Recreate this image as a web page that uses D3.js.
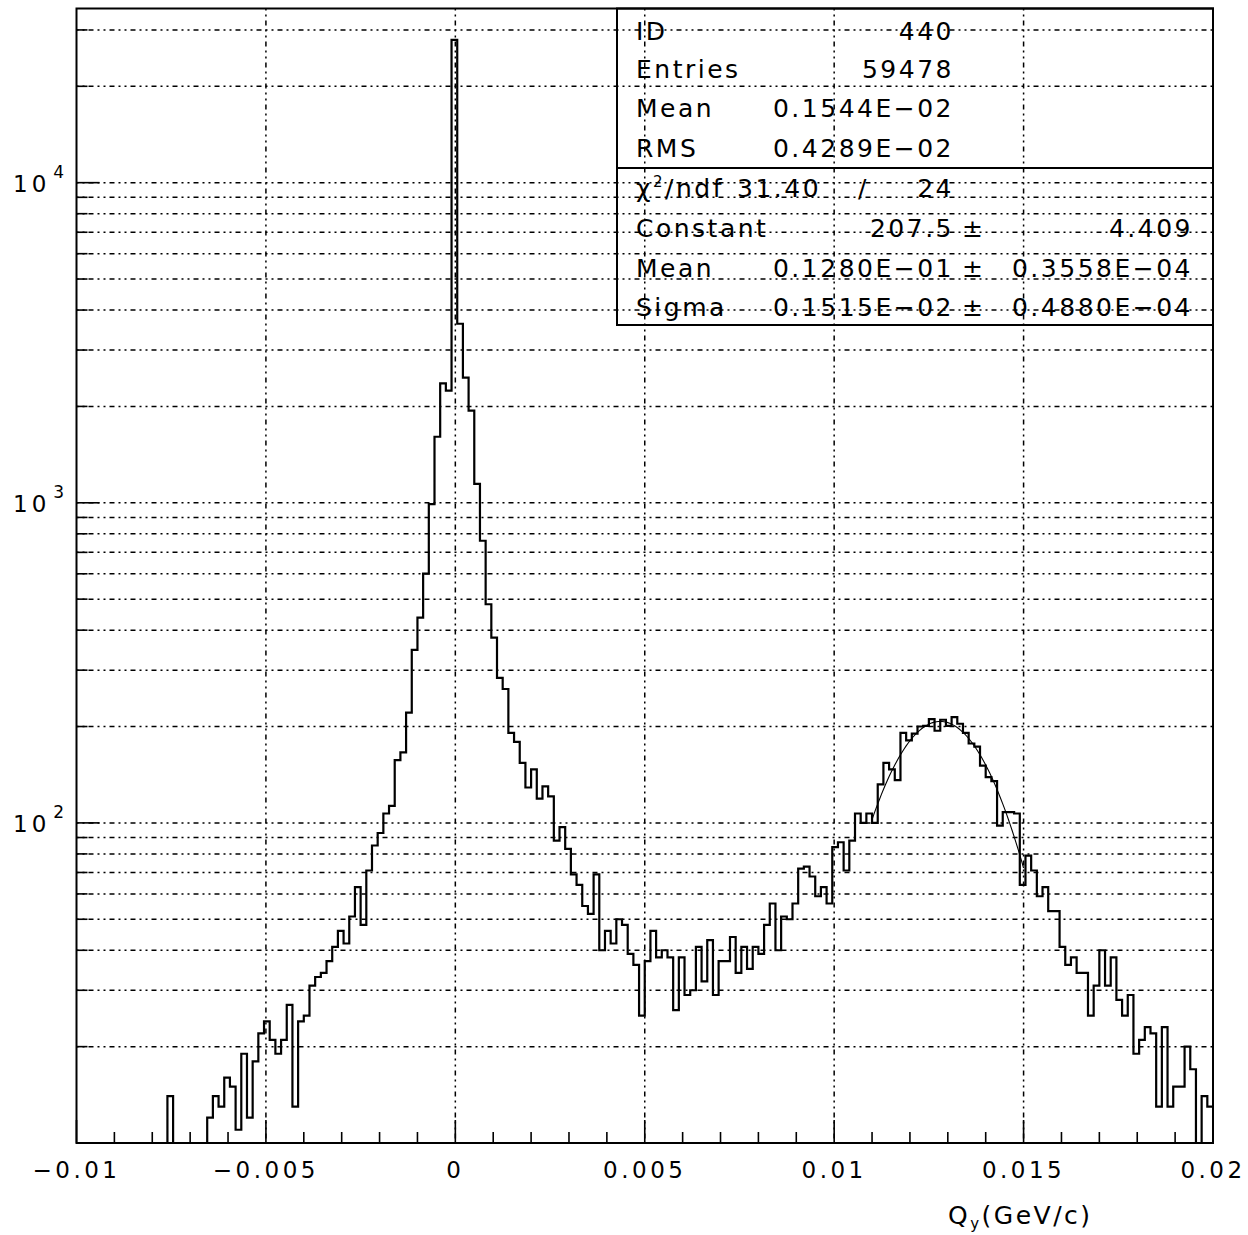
<!DOCTYPE html>
<html>
<head>
<meta charset="utf-8">
<script src="https://cdn.jsdelivr.net/npm/d3@7"></script>
<style>
  body { margin: 0; background: #fff; }
  svg { display: block; }
  text { font-family: 'DejaVu Sans', sans-serif; fill: #000; }
</style>
</head>
<body>
<svg id="chart" width="1248" height="1235"></svg>
<script>
// histogram 440 : 200 bins from -0.01 to 0.02
const binLow = -0.01;
const binHigh = 0.02;
const counts = [
  0, 0, 0, 0, 0, 0, 0, 0, 0, 0,
  0, 0, 0, 0, 0, 0, 14, 0, 0, 0,
  0, 0, 0, 12, 14, 13, 16, 15, 11, 19,
  12, 18, 22, 24, 21, 19, 21, 27, 13, 24,
  25, 31, 33, 34, 37, 41, 46, 42, 51, 63,
  48, 71, 85, 93, 107, 113, 157, 166, 221, 347,
  438, 601, 991, 1608, 2360, 2239, 27930, 3625, 2460, 1939,
  1146, 761, 482, 379, 284, 262, 191, 179, 154, 129,
  147, 119, 130, 121, 88, 97, 83, 69, 64, 55,
  52, 69, 40, 46, 42, 50, 48, 39, 36, 25,
  37, 46, 38, 40, 38, 26, 38, 29, 30, 41,
  32, 43, 29, 37, 37, 44, 34, 41, 35, 41,
  39, 48, 56, 40, 51, 50, 56, 72, 73, 68,
  59, 63, 56, 84, 87, 71, 88, 107, 100, 107,
  100, 132, 154, 147, 136, 191, 181, 190, 200, 201,
  211, 194, 210, 201, 214, 204, 191, 177, 173, 151,
  139, 135, 98, 108, 108, 107, 64, 79, 71, 59,
  63, 53, 53, 41, 36, 38, 34, 34, 25, 31,
  40, 31, 38, 28, 25, 29, 19, 21, 23, 22,
  13, 23, 13, 15, 15, 20, 17, 0, 14, 13
];

const xMajorTicks = [-0.01, -0.005, 0, 0.005, 0.01, 0.015, 0.02];
const xTickLabels = ['\u22120.01', '\u22120.005', '0', '0.005', '0.01', '0.015', '0.02'];
const yDecades = [100, 1000, 10000];
const yDecadeExp = ['2', '3', '4'];

// statistics box
const statLabels = ['ID', 'Entries', 'Mean', 'RMS'];
const statValues = ['440', '59478', '0.1544E\u221202', '0.4289E\u221202'];
const chi2 = '31.40';
const ndf = '24';
const fitLabels = ['Constant', 'Mean', 'Sigma'];
const fitValues = ['207.5', '0.1280E\u221201', '0.1515E\u221202'];
const fitErrors = ['4.409', '0.3558E\u221204', '0.4880E\u221204'];
// gaussian fit, drawn over its fit range
const fitConstant = 207.5;
const fitMean = 0.0128;
const fitSigma = 0.001515;
const fitRange = [0.011, 0.015];

const svg = d3.select('#chart');
const plotL = 76.5, plotR = 1213, plotT = 8.5, plotB = 1143;

const x = d3.scaleLinear().domain([binLow, binHigh]).range([plotL, plotR]);
const y = d3.scaleLog().domain([10, 35000]).range([plotB, plotT]);

const gridDash = '2,4,2,4,5,4';

// grid
svg.append('g')
  .selectAll('line')
  .data(y.ticks().filter(v => v > 10))
  .enter()
  .append('line')
  .attr('x1', plotL).attr('x2', plotR)
  .attr('y1', d => y(d)).attr('y2', d => y(d))
  .attr('stroke', '#000')
  .attr('stroke-width', 1.5)
  .attr('stroke-dasharray', gridDash);

svg.append('g')
  .selectAll('line')
  .data(xMajorTicks.slice(1, -1))
  .enter()
  .append('line')
  .attr('x1', d => x(d)).attr('x2', d => x(d))
  .attr('y1', plotT).attr('y2', plotB)
  .attr('stroke', '#000')
  .attr('stroke-width', 1.5)
  .attr('stroke-dasharray', gridDash);

// ticks (inside the frame)
const xMinor = d3.range(-10, 21).map(d => d / 1000);
svg.append('g')
  .selectAll('line')
  .data(xMinor)
  .enter()
  .append('line')
  .attr('x1', d => x(d)).attr('x2', d => x(d))
  .attr('y1', plotB)
  .attr('y2', d => plotB - (Math.abs(Math.round(d * 1000) % 5) === 0 ? 23 : 11))
  .attr('stroke', '#000')
  .attr('stroke-width', 1.6);

svg.append('g')
  .selectAll('line')
  .data(y.ticks().filter(v => v > 10))
  .enter()
  .append('line')
  .attr('x1', plotL)
  .attr('x2', d => plotL + (yDecades.includes(d) ? 23 : 11))
  .attr('y1', d => y(d)).attr('y2', d => y(d))
  .attr('stroke', '#000')
  .attr('stroke-width', 1.6);

// histogram outline
const edges = counts.map((c, i) => binLow + i * (binHigh - binLow) / counts.length);
const pts = counts.map((c, i) => [edges[i], c]);
pts.push([binHigh, counts[counts.length - 1]]);

const step = d3.line()
  .x(d => x(d[0]))
  .y(d => y(Math.max(d[1], 10)))
  .curve(d3.curveStepAfter);

svg.append('path')
  .attr('d', step(pts))
  .attr('fill', 'none')
  .attr('stroke', '#000')
  .attr('stroke-width', 2.2);

// fit curve
const fitX = d3.range(fitRange[0], fitRange[1] + 1e-9, (fitRange[1] - fitRange[0]) / 80);
const fitLine = d3.line()
  .x(d => x(d))
  .y(d => y(fitConstant * Math.exp(-0.5 * Math.pow((d - fitMean) / fitSigma, 2))));

svg.append('path')
  .attr('d', fitLine(fitX))
  .attr('fill', 'none')
  .attr('stroke', '#000')
  .attr('stroke-width', 1.1);

// frame
svg.append('rect')
  .attr('x', plotL).attr('y', plotT)
  .attr('width', plotR - plotL).attr('height', plotB - plotT)
  .attr('fill', 'none')
  .attr('stroke', '#000')
  .attr('stroke-width', 2);

// x tick labels
svg.append('g')
  .selectAll('text')
  .data(xMajorTicks)
  .enter()
  .append('text')
  .attr('x', d => x(d))
  .attr('y', 1178)
  .attr('text-anchor', 'middle')
  .attr('font-size', 23)
  .attr('letter-spacing', 3.5)
  .text((d, i) => xTickLabels[i]);

// y decade labels
const yLab = svg.append('g')
  .selectAll('text')
  .data(yDecades)
  .enter()
  .append('text')
  .attr('x', 13)
  .attr('y', d => y(d) + 9)
  .attr('font-size', 23)
  .attr('letter-spacing', 4);
yLab.append('tspan').text('10');
yLab.append('tspan')
  .attr('dx', 3)
  .attr('dy', -14)
  .attr('font-size', 17)
  .text((d, i) => yDecadeExp[i]);

// axis title
const xTitle = svg.append('text')
  .attr('x', 948)
  .attr('y', 1224)
  .attr('font-size', 25)
  .attr('letter-spacing', 2.5);
xTitle.append('tspan').text('Q');
xTitle.append('tspan').attr('dy', 5).attr('font-size', 15).text('y');
xTitle.append('tspan').attr('dy', -5).text('(GeV/c)');

// statistics box
const boxL = 617, boxSep = 168, boxB = 325;
svg.append('rect')
  .attr('x', boxL).attr('y', plotT)
  .attr('width', plotR - boxL).attr('height', boxB - plotT)
  .attr('fill', 'none')
  .attr('stroke', '#000')
  .attr('stroke-width', 2);
svg.append('line')
  .attr('x1', boxL).attr('x2', plotR)
  .attr('y1', boxSep).attr('y2', boxSep)
  .attr('stroke', '#000')
  .attr('stroke-width', 2);

const labelX = 636, valueX = 954, pmX = 962, errX = 1193;
const statRowY = [40, 78, 117, 157];
const fitRowY = [237, 277, 316];

function statText(px, py, str, anchor) {
  return svg.append('text')
    .attr('x', px).attr('y', py)
    .attr('text-anchor', anchor || 'start')
    .attr('font-size', 25)
    .attr('letter-spacing', 2.5)
    .text(str);
}

statLabels.forEach((s, i) => {
  statText(labelX, statRowY[i], s);
  statText(valueX, statRowY[i], statValues[i], 'end');
});

const chiText = statText(labelX, 197, '\u03c7');
chiText.append('tspan').attr('dy', -10).attr('font-size', 15).text('2');
chiText.append('tspan').attr('dy', 10).text('/ndf');
chiText.append('tspan').attr('x', 737).text(chi2);
statText(858, 197, '/');
statText(valueX, 197, ndf, 'end');

fitLabels.forEach((s, i) => {
  statText(labelX, fitRowY[i], s);
  statText(valueX, fitRowY[i], fitValues[i], 'end');
  statText(pmX, fitRowY[i], '\u00b1');
  statText(errX, fitRowY[i], fitErrors[i], 'end');
});
</script>
</body>
</html>
